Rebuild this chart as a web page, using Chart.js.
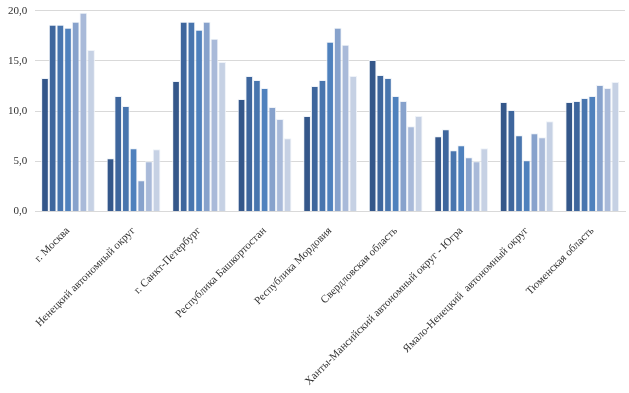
<!DOCTYPE html>
<html lang="ru">
<head>
  <meta charset="UTF-8">
  <title>Регионы</title>
  <script src="https://cdn.jsdelivr.net/npm/chart.js"></script>
  <style>
    html, body { margin: 0; padding: 0; background: #ffffff; }
    #wrap { width: 629px; height: 393px; }
  </style>
</head>
<body>
  <div id="wrap"><canvas id="grafico"></canvas></div>

  <script>
    const regiones = [
      'г. Москва',
      'Ненецкий автономный округ',
      'г. Санкт-Петербург',
      'Республика Башкортостан',
      'Республика Мордовия',
      'Свердловская область',
      'Ханты-Мансийский автономный округ - Югра',
      'Ямало-Ненецкий  автономный округ',
      'Тюменская область'
    ];

    const serie1 = [13.3, 5.3, 13.0, 11.2, 9.5, 15.1, 7.5, 10.9, 10.9];
    const serie2 = [18.6, 11.5, 18.9, 13.5, 12.5, 13.6, 8.2, 10.1, 11.0];
    const serie3 = [18.6, 10.5, 18.9, 13.1, 13.1, 13.3, 6.1, 7.6, 11.3];
    const serie4 = [18.3, 6.3, 18.1, 12.3, 16.9, 11.5, 6.6, 5.1, 11.5];
    const serie5 = [18.9, 3.1, 18.9, 10.4, 18.3, 11.0, 5.4, 7.8, 12.6];
    const serie6 = [19.8, 5.0, 17.2, 9.2, 16.6, 8.5, 5.0, 7.4, 12.3];
    const serie7 = [16.1, 6.2, 14.9, 7.3, 13.5, 9.5, 6.3, 9.0, 12.9];

    const yTicks = [0, 5, 10, 15, 20];

    const colores = ['#34578a', '#3e669d', '#4875ae', '#4f81bd', '#87a2cc', '#a9bad9', '#c6d1e4'];
    const series = [serie1, serie2, serie3, serie4, serie5, serie6, serie7];

    const ctx = document.getElementById('grafico').getContext('2d');
    new Chart(ctx, {
      type: 'bar',
      data: {
        labels: regiones,
        datasets: series.map((s, i) => ({
          label: 'Ряд ' + (i + 1),
          data: s,
          backgroundColor: colores[i],
          borderColor: '#eef2f8',
          borderWidth: 1,
          barPercentage: 1.0,
          categoryPercentage: 0.82
        }))
      },
      options: {
        responsive: true,
        maintainAspectRatio: false,
        animation: false,
        layout: { padding: { top: 3, right: 4, left: 0, bottom: 0 } },
        plugins: {
          legend: { display: false },
          tooltip: { enabled: false }
        },
        scales: {
          x: {
            grid: { display: false },
            border: { color: '#d9d9d9', width: 1 },
            ticks: {
              color: '#303030',
              font: { family: 'Liberation Serif', size: 11 },
              minRotation: 45,
              maxRotation: 45,
              autoSkip: false,
              padding: 5
            }
          },
          y: {
            min: 0,
            max: 20,
            afterBuildTicks: axis => { axis.ticks = yTicks.map(v => ({ value: v })); },
            grid: { color: '#d9d9d9', drawTicks: false },
            border: { display: false },
            ticks: {
              color: '#303030',
              font: { family: 'Liberation Serif', size: 11, lineHeight: 0.5 },
              padding: 8,
              callback: v => v.toFixed(1).replace('.', ',')
            }
          }
        }
      }
    });
  </script>
</body>
</html>
